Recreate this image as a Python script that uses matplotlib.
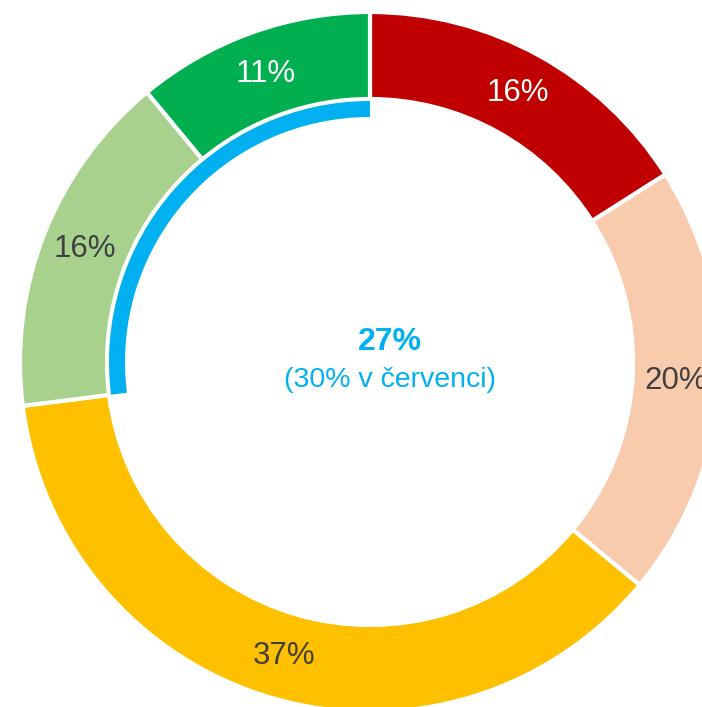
import matplotlib.pyplot as plt
from matplotlib.patches import Wedge

plt.rcParams['font.family'] = ['Liberation Sans', 'DejaVu Sans']

shares = [16, 20, 37, 16, 11]
colors = ['#C00000', '#F8CBAD', '#FFC000', '#A9D18E', '#00B050']
label_colors = ['white', '#404040', '#404040', '#404040', 'white']

current_share = 27
center_main = '27%'
center_sub = '(30% v červenci)'

fig = plt.figure(figsize=(7.02, 7.07), dpi=100)
ax = fig.add_axes([0, 0, 1, 1])

cx, cy = 370, 707 - 362
R = 350
ring = 87

wedges, texts, autotexts = ax.pie(
    shares, colors=colors, startangle=90, counterclock=False,
    radius=R, center=(cx, cy), autopct='%.0f%%', pctdistance=(R - ring / 2) / R,
    wedgeprops=dict(width=ring, edgecolor='white', linewidth=3),
    textprops=dict(fontsize=22.5),
)
for t, c in zip(autotexts, label_colors):
    t.set_color(c)

# inner arc showing the current share
ax.add_patch(Wedge((cx, cy), 261, 90, 90 + current_share * 3.6, width=16,
                   facecolor='#00B0F0', edgecolor='none'))

ax.text(cx + 20, cy + 20, center_main, ha='center', va='center',
        fontsize=23, fontweight='bold', color='#00B0F0')
ax.text(cx + 20, cy - 18, center_sub, ha='center', va='center',
        fontsize=20.5, color='#00B0F0')

ax.set_xlim(0, 702)
ax.set_ylim(0, 707)
ax.set_aspect('equal')
ax.axis('off')

fig.savefig('out.png', dpi=100)
